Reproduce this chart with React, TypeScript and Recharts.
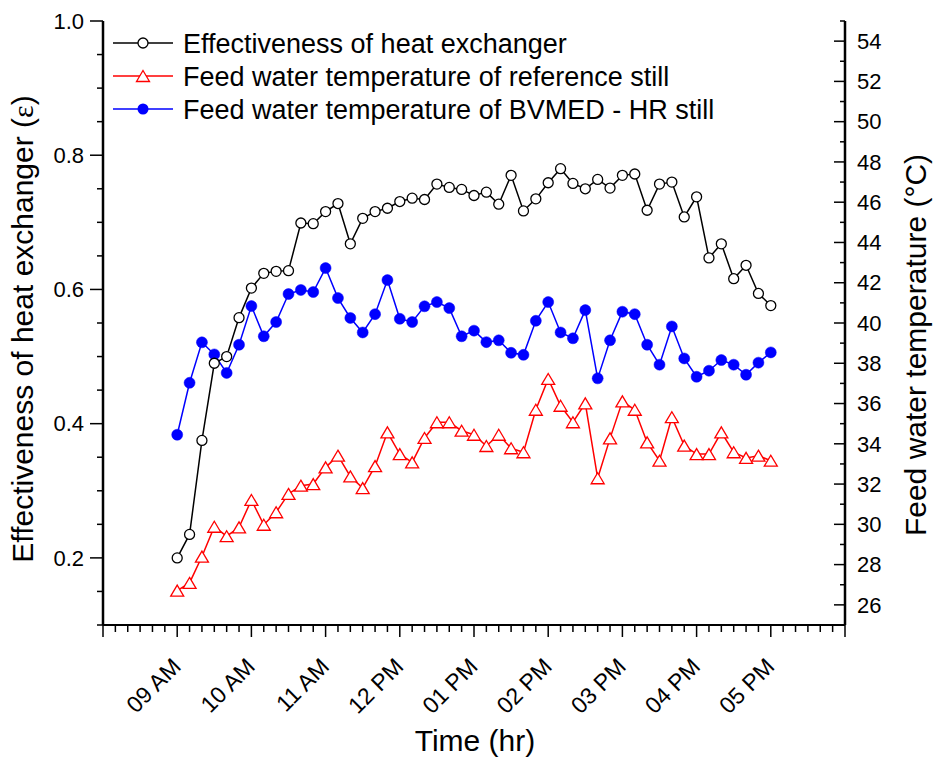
import React from 'react';
import { LineChart, Line, XAxis, YAxis, Customized } from 'recharts';

// hour ticks on the time axis and their labels
const hours = [9, 10, 11, 12, 13, 14, 15, 16, 17];
const hourLabels = ['09 AM', '10 AM', '11 AM', '12 PM', '01 PM', '02 PM', '03 PM', '04 PM', '05 PM'];

// readings every 10 min from 09:00 to 17:00
const effectiveness = [
  0.2, 0.235, 0.375, 0.49, 0.5, 0.558, 0.602, 0.624, 0.627, 0.628,
  0.699, 0.698, 0.716, 0.728, 0.668, 0.706, 0.716, 0.721, 0.731, 0.736,
  0.734, 0.757, 0.752, 0.749, 0.74, 0.745, 0.727, 0.77, 0.717, 0.735,
  0.759, 0.78, 0.758, 0.75, 0.764, 0.751, 0.77, 0.772, 0.718, 0.757,
  0.76, 0.708, 0.738, 0.647, 0.668, 0.616, 0.636, 0.594, 0.576,
];
const feedReference = [
  26.71, 27.09, 28.4, 29.88, 29.41, 29.85, 31.21, 29.98, 30.6, 31.51,
  31.92, 32.0, 32.83, 33.41, 32.38, 31.8, 32.89, 34.57, 33.49, 33.08,
  34.29, 35.07, 35.07, 34.65, 34.45, 33.89, 34.45, 33.78, 33.58, 35.69,
  37.22, 35.89, 35.07, 36.01, 32.29, 34.27, 36.11, 35.69, 34.07, 33.16,
  35.32, 33.91, 33.49, 33.49, 34.57, 33.58, 33.3, 33.41, 33.16,
];
const feedBvmed = [
  34.45, 37.03, 39.04, 38.44, 37.52, 38.92, 40.84, 39.34, 40.05, 41.44,
  41.64, 41.54, 42.73, 41.24, 40.25, 39.53, 40.44, 42.13, 40.21, 40.05,
  40.83, 41.04, 40.74, 39.34, 39.62, 39.05, 39.14, 38.52, 38.42, 40.11,
  41.04, 39.53, 39.24, 40.64, 37.25, 39.14, 40.56, 40.44, 38.92, 37.93,
  39.83, 38.24, 37.33, 37.63, 38.16, 37.93, 37.43, 38.03, 38.54,
];

const seriesNames = [
  'Effectiveness of heat exchanger',
  'Feed water temperature of reference still',
  'Feed water temperature of BVMED - HR still',
];
const seriesColors = ['#000000', '#ff0000', '#0000ff'];

const FONT = '"Liberation Sans", Arial, sans-serif';

const data = effectiveness.map((eps, i) => ({
  t: 9 + i / 6,
  eps,
  ref: feedReference[i],
  bvmed: feedBvmed[i],
}));

// tick grids (minor + major)
const timeTicks = Array.from({ length: 61 }, (_, i) => 8 + i / 6);
const epsTicks = Array.from({ length: 19 }, (_, i) => +(0.1 + i * 0.05).toFixed(2));
const tempTicks = Array.from({ length: 31 }, (_, i) => 25 + i);

const isWhole = (v: number) => Math.abs(v - Math.round(v)) < 1e-6;

const TimeTick = (props: any) => {
  const { x, y, payload } = props;
  const v = payload.value;
  const major = isWhole(v);
  const idx = hours.indexOf(Math.round(v));
  return (
    <g>
      <line x1={x} y1={y} x2={x} y2={y + (major ? 12 : 7)} stroke="#000" strokeWidth={1.5} />
      {major && idx >= 0 && (
        <text
          x={x + 5}
          y={y + 43}
          textAnchor="end"
          fontSize={23}
          fontFamily={FONT}
          fill="#000"
          transform={`rotate(-45 ${x + 5} ${y + 43})`}
        >
          {hourLabels[idx]}
        </text>
      )}
    </g>
  );
};

const TopTick = (props: any) => {
  const { x, y } = props;
  return <line x1={x} y1={y} x2={x} y2={y - 3} stroke="#000" strokeWidth={1} />;
};

const EpsTick = (props: any) => {
  const { x, y, payload } = props;
  const v = payload.value;
  const major = isWhole(v * 5);
  return (
    <g>
      <line x1={x} y1={y} x2={x - (major ? 13 : 6)} y2={y} stroke="#000" strokeWidth={1.5} />
      {major && (
        <text x={x - 19} y={y} dy="0.35em" textAnchor="end" fontSize={22} fontFamily={FONT} fill="#000">
          {v.toFixed(1)}
        </text>
      )}
    </g>
  );
};

const TempTick = (props: any) => {
  const { x, y, payload } = props;
  const v = payload.value;
  const major = v % 2 === 0;
  return (
    <g>
      <line x1={x} y1={y} x2={x - (major ? 11 : 5)} y2={y} stroke="#000" strokeWidth={1.5} />
      {major && (
        <text x={x + 12} y={y} dy="0.35em" textAnchor="start" fontSize={22} fontFamily={FONT} fill="#000">
          {v}
        </text>
      )}
    </g>
  );
};

const Triangle = (props: any) => {
  const { cx, cy, index } = props;
  if (cx == null || cy == null) return <g key={`tri-${index}`} />;
  return (
    <path
      key={`tri-${index}`}
      d={`M${cx},${cy - 5.5}L${cx + 6.5},${cy + 5.5}L${cx - 6.5},${cy + 5.5}Z`}
      fill="#fff"
      stroke="#ff0000"
      strokeWidth={1.3}
    />
  );
};

const LegendMarker = ({ i, cx, cy }: { i: number; cx: number; cy: number }) => {
  if (i === 0) return <circle cx={cx} cy={cy} r={5} fill="#fff" stroke="#000" strokeWidth={1.3} />;
  if (i === 1)
    return (
      <path
        d={`M${cx},${cy - 5.5}L${cx + 6.5},${cy + 5.5}L${cx - 6.5},${cy + 5.5}Z`}
        fill="#fff"
        stroke="#ff0000"
        strokeWidth={1.3}
      />
    );
  return <circle cx={cx} cy={cy} r={5.5} fill="#0000ff" />;
};

const Decorations = () => (
  <g fontFamily={FONT} fill="#000">
    {seriesNames.map((name, i) => {
      const cy = 43 + i * 33;
      return (
        <g key={name}>
          <line x1={113} y1={cy} x2={173} y2={cy} stroke={seriesColors[i]} strokeWidth={1.5} />
          <LegendMarker i={i} cx={143} cy={cy} />
          <text x={183} y={cy + 9.5} fontSize={27}>
            {name}
          </text>
        </g>
      );
    })}
    <text x={33} y={329} fontSize={30} textAnchor="middle" transform="rotate(-90 33 329)">
      Effectiveness of heat exchanger (<tspan fontFamily='"Liberation Serif", serif'>ε</tspan>)
    </text>
    <text x={926} y={345} fontSize={30} textAnchor="middle" transform="rotate(-90 926 345)">
      Feed water temperature (°C)
    </text>
    <text x={475} y={751} fontSize={30} textAnchor="middle">
      Time (hr)
    </text>
  </g>
);

export default function App() {
  return (
    <div style={{ position: 'absolute', left: 0, top: 0, width: 933, height: 760, background: '#fff' }}>
      <LineChart width={933} height={760} data={data} margin={{ top: 21, left: 43, right: 28, bottom: 75 }}>
        <XAxis
          xAxisId="main"
          dataKey="t"
          type="number"
          domain={[8, 18]}
          ticks={timeTicks}
          interval={0}
          height={60}
          tickSize={0}
          tickMargin={0}
          tickLine={false}
          tick={<TimeTick />}
          axisLine={{ stroke: '#000', strokeWidth: 2 }}
        />
        <XAxis
          xAxisId="top"
          orientation="top"
          dataKey="t"
          type="number"
          domain={[8, 18]}
          ticks={timeTicks}
          interval={0}
          height={0}
          tickSize={0}
          tickMargin={0}
          tickLine={false}
          tick={<TopTick />}
          axisLine={{ stroke: '#000', strokeWidth: 2 }}
        />
        <YAxis
          yAxisId="left"
          orientation="left"
          type="number"
          domain={[0.1, 1.0]}
          ticks={epsTicks}
          interval={0}
          width={60}
          tickSize={0}
          tickMargin={0}
          tickLine={false}
          tick={<EpsTick />}
          axisLine={{ stroke: '#000', strokeWidth: 2.5 }}
        />
        <YAxis
          yAxisId="right"
          orientation="right"
          type="number"
          domain={[25, 55]}
          ticks={tempTicks}
          interval={0}
          width={60}
          tickSize={0}
          tickMargin={0}
          tickLine={false}
          tick={<TempTick />}
          axisLine={{ stroke: '#000', strokeWidth: 2.5 }}
        />
        <Line
          xAxisId="main"
          yAxisId="right"
          dataKey="ref"
          stroke="#ff0000"
          strokeWidth={1.5}
          dot={<Triangle />}
          activeDot={false}
          isAnimationActive={false}
        />
        <Line
          xAxisId="main"
          yAxisId="right"
          dataKey="bvmed"
          stroke="#0000ff"
          strokeWidth={1.5}
          dot={{ r: 5.5, fill: '#0000ff', stroke: '#0000ff', strokeWidth: 0.5 }}
          activeDot={false}
          isAnimationActive={false}
        />
        <Line
          xAxisId="main"
          yAxisId="left"
          dataKey="eps"
          stroke="#000000"
          strokeWidth={1.5}
          dot={{ r: 5, fill: '#fff', stroke: '#000', strokeWidth: 1.3 }}
          activeDot={false}
          isAnimationActive={false}
        />
        <Customized component={Decorations} />
      </LineChart>
    </div>
  );
}
